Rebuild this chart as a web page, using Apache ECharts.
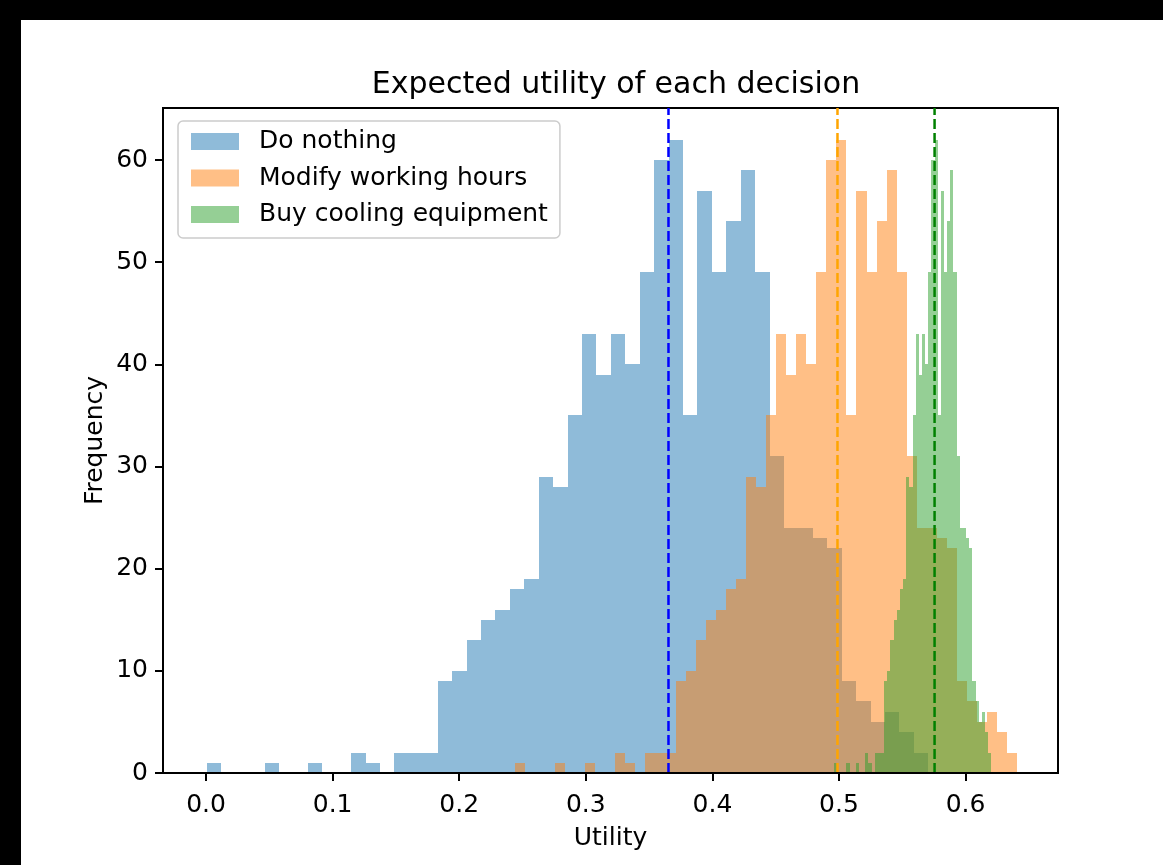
<!DOCTYPE html>
<html><head><meta charset="utf-8">
<script src="https://cdn.jsdelivr.net/npm/echarts@6/dist/echarts.min.js"></script>
<style>html,body{margin:0;padding:0;background:#fff}#c{width:1163px;height:865px}</style>
</head><body><div id="c"></div>
<script>
const seriesNames = ['Do nothing', 'Modify working hours', 'Buy cooling equipment'];
// histogram counts (50 bins each)
const doNothingCounts = [1,0,0,0,1,0,0,1,0,0,2,1,0,2,2,2,9,10,13,15,16,18,19,29,28,35,43,39,43,40,49,60,62,35,57,49,54,59,49,31,24,24,23,22,9,7,5,6,4,2];
const modifyHoursCounts = [1,0,0,0,1,0,0,1,0,0,2,1,0,2,2,2,9,10,13,15,16,18,19,29,28,35,43,39,43,40,49,60,62,35,57,49,54,59,49,31,24,24,23,22,9,7,5,6,4,2];
const coolingCounts = [1,0,0,0,1,0,0,1,0,0,2,1,0,2,2,2,9,10,13,15,16,18,19,29,28,35,43,39,43,40,49,60,62,35,57,49,54,59,49,31,24,24,23,22,9,7,5,6,4,2];
// value range covered by each histogram's bins [min, max]
const doNothingRange = [0.0006, 0.5705];
const modifyHoursRange = [0.2439, 0.6408];
const coolingRange = [0.4959, 0.6203];
// expected utility (dashed lines)
const meanUtilities = [0.3653, 0.4988, 0.5755];
const xTicks = [0, 0.1, 0.2, 0.3, 0.4, 0.5, 0.6];
const yTicks = [0, 10, 20, 30, 40, 50, 60];

const fillColors = ['rgba(31,119,180,0.5)', 'rgba(255,127,14,0.5)', 'rgba(44,160,44,0.5)'];
const lineColors = ['#0000ff', '#ffa500', '#008000'];
const FONT = 'DejaVu Sans';

function binData(counts, range) {
  const w = (range[1] - range[0]) / counts.length;
  return counts.map((c, i) => [range[0] + i * w, range[0] + (i + 1) * w, c]);
}
function histSeries(name, counts, range, color) {
  return {
    type: 'custom', name: name, silent: true,
    itemStyle: { color: color },
    encode: { x: [0, 1], y: 2 },
    data: binData(counts, range),
    renderItem: function (params, api) {
      const p0 = api.coord([api.value(0), api.value(2)]);
      const p1 = api.coord([api.value(1), 0]);
      const x0 = Math.round(p0[0]), x1 = Math.round(p1[0]);
      const y0 = Math.round(p0[1]), y1 = Math.round(p1[1]);
      return { type: 'rect', shape: { x: x0, y: y0, width: x1 - x0, height: y1 - y0 },
               style: { fill: color } };
    }
  };
}
function meanLine(m, color) {
  return {
    type: 'line', silent: true, symbol: 'none', z: 5,
    data: [[m, 0], [m, 65.1]],
    lineStyle: { color: color, width: 2.5, type: [10, 4] }
  };
}

const chart = echarts.init(document.getElementById('c'), null, { renderer: 'canvas' });
chart.setOption({
  animation: false,
  backgroundColor: '#ffffff',
  textStyle: { fontFamily: FONT },
  title: {
    text: 'Expected utility of each decision', left: 611, top: 65, textAlign: 'center',
    textStyle: { fontFamily: FONT, fontSize: 30, fontWeight: 'normal', color: '#000' }
  },
  legend: {
    orient: 'vertical', left: 178, top: 121,
    data: seriesNames,
    itemWidth: 48, itemHeight: 17, itemGap: 11.5,
    padding: [8, 12, 11, 13],
    borderColor: '#cccccc', borderWidth: 1.5, borderRadius: 5,
    backgroundColor: 'rgba(255,255,255,0.8)',
    icon: 'rect',
    textStyle: { fontFamily: FONT, fontSize: 25, color: '#000', lineHeight: 21, padding: [4, 0, 0, 15] }
  },
  grid: { left: 163, top: 108, right: 105, bottom: 92, show: true, borderColor: '#000', borderWidth: 2, containLabel: false },
  xAxis: {
    type: 'value', min: -0.034, max: 0.673, z: 10,
    name: 'Utility', nameLocation: 'middle', nameGap: 53, nameMoveOverlap: false,
    nameTextStyle: { fontFamily: FONT, fontSize: 25, color: '#000' },
    axisLine: { show: true, onZero: false, lineStyle: { color: '#000', width: 2 } },
    axisTick: { show: true, length: 8, lineStyle: { color: '#000', width: 2 }, customValues: xTicks },
    axisLabel: { color: '#000', fontSize: 25, fontFamily: FONT, margin: 20, customValues: xTicks,
                 formatter: v => v.toFixed(1) },
    splitLine: { show: false }
  },
  yAxis: {
    type: 'value', min: 0, max: 65.1, z: 10,
    name: 'Frequency', nameLocation: 'middle', nameGap: 55, nameRotate: 90, nameMoveOverlap: false,
    nameTextStyle: { fontFamily: FONT, fontSize: 25, color: '#000' },
    axisLine: { show: true, onZero: false, lineStyle: { color: '#000', width: 2 } },
    axisTick: { show: true, length: 8, lineStyle: { color: '#000', width: 2 }, customValues: yTicks },
    axisLabel: { color: '#000', fontSize: 25, fontFamily: FONT, margin: 15, customValues: yTicks,
                 padding: [5, 0, 0, 0] },
    splitLine: { show: false }
  },
  graphic: [
    { type: 'rect', z: 100, shape: { x: 0, y: 0, width: 1163, height: 20 }, style: { fill: '#000' } },
    { type: 'rect', z: 100, shape: { x: 0, y: 0, width: 21, height: 865 }, style: { fill: '#000' } }
  ],
  series: [
    histSeries(seriesNames[0], doNothingCounts, doNothingRange, fillColors[0]),
    histSeries(seriesNames[1], modifyHoursCounts, modifyHoursRange, fillColors[1]),
    histSeries(seriesNames[2], coolingCounts, coolingRange, fillColors[2]),
    meanLine(meanUtilities[0], lineColors[0]),
    meanLine(meanUtilities[1], lineColors[1]),
    meanLine(meanUtilities[2], lineColors[2])
  ]
});
</script></body></html>
